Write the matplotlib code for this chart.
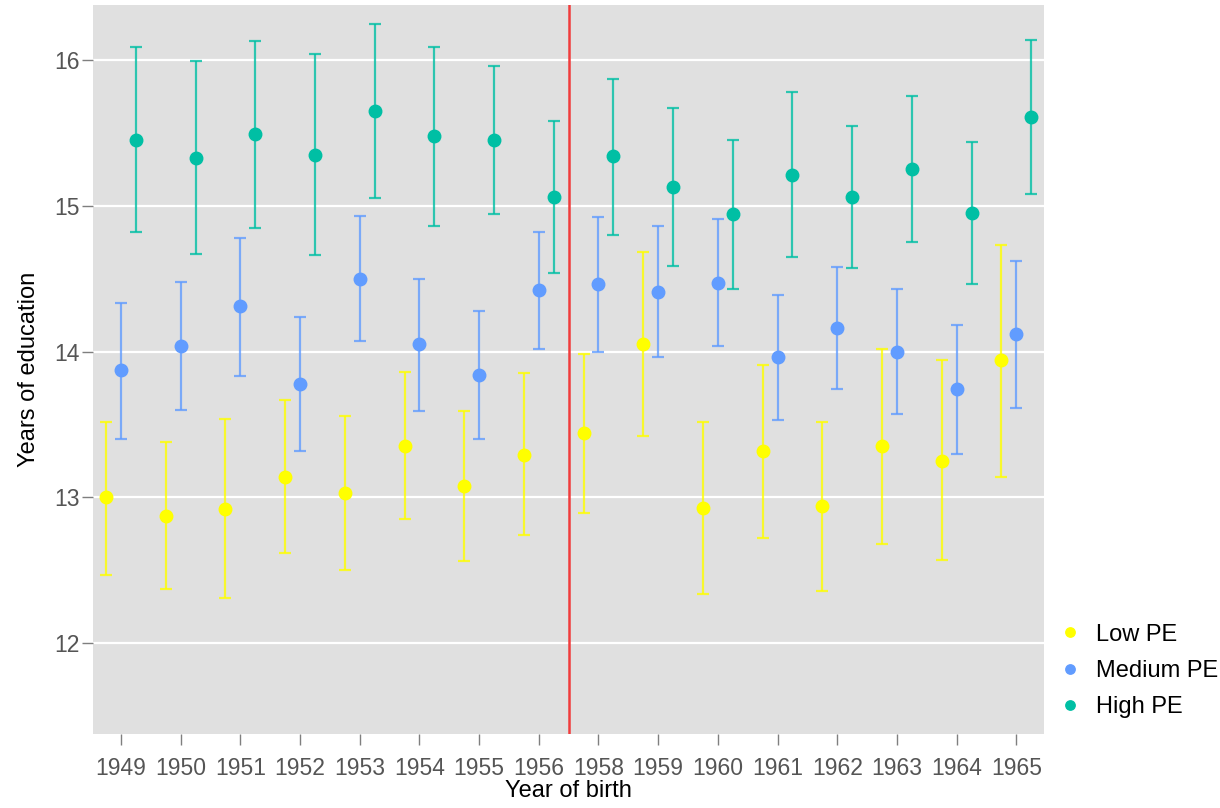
import matplotlib
matplotlib.use("Agg")
import matplotlib.pyplot as plt
import numpy as np

plt.rcParams['font.family'] = ['Liberation Sans', 'DejaVu Sans']

years = ['1949', '1950', '1951', '1952', '1953', '1954', '1955', '1956',
         '1958', '1959', '1960', '1961', '1962', '1963', '1964', '1965']

# mean years of education and interval bounds per birth cohort
low_mean = [13.00, 12.87, 12.92, 13.14, 13.03, 13.35, 13.08, 13.29,
            13.44, 14.05, 12.93, 13.32, 12.94, 13.35, 13.25, 13.94]
low_lo = [12.47, 12.37, 12.31, 12.62, 12.50, 12.85, 12.56, 12.74,
          12.89, 13.42, 12.34, 12.72, 12.36, 12.68, 12.57, 13.14]
low_hi = [13.52, 13.38, 13.54, 13.67, 13.56, 13.86, 13.59, 13.85,
          13.98, 14.68, 13.52, 13.91, 13.52, 14.02, 13.94, 14.73]

med_mean = [13.87, 14.04, 14.31, 13.78, 14.50, 14.05, 13.84, 14.42,
            14.46, 14.41, 14.47, 13.96, 14.16, 14.00, 13.74, 14.12]
med_lo = [13.40, 13.60, 13.83, 13.32, 14.07, 13.59, 13.40, 14.02,
          14.00, 13.96, 14.04, 13.53, 13.74, 13.57, 13.30, 13.61]
med_hi = [14.33, 14.48, 14.78, 14.24, 14.93, 14.50, 14.28, 14.82,
          14.92, 14.86, 14.91, 14.39, 14.58, 14.43, 14.18, 14.62]

high_mean = [15.45, 15.33, 15.49, 15.35, 15.65, 15.48, 15.45, 15.06,
             15.34, 15.13, 14.94, 15.21, 15.06, 15.25, 14.95, 15.61]
high_lo = [14.82, 14.67, 14.85, 14.66, 15.05, 14.86, 14.94, 14.54,
           14.80, 14.59, 14.43, 14.65, 14.57, 14.75, 14.46, 15.08]
high_hi = [16.09, 15.99, 16.13, 16.04, 16.25, 16.09, 15.96, 15.58,
           15.87, 15.67, 15.45, 15.78, 15.55, 15.75, 15.44, 16.14]

groups = [
    ('Low PE', low_mean, low_lo, low_hi, '#FFFF00', -0.25),
    ('Medium PE', med_mean, med_lo, med_hi, '#619CFF', 0.0),
    ('High PE', high_mean, high_lo, high_hi, '#00BFA4', 0.25),
]

fig = plt.figure(figsize=(12.2, 8.08), dpi=100)
ax = fig.add_axes([93.3 / 1220, 1 - 733.5 / 808, (1044 - 93.3) / 1220, (733.5 - 5) / 808])
ax.set_facecolor('#E0E0E0')

x = np.arange(len(years))
for label, m, lo, hi, col, off in groups:
    m = np.array(m)
    yerr = [m - np.array(lo), np.array(hi) - m]
    ax.errorbar(x + off, m, yerr=yerr, fmt='none', ecolor=col, alpha=0.8,
                elinewidth=1.6, capsize=4, capthick=1.6, zorder=3)
    ax.plot(x + off, m, 'o', color=col, markersize=9, zorder=4, label=label)

ax.axvline(7.5, color='#F03C3C', lw=1.8, zorder=5)

ax.set_xlim(-0.464, 15.464)
ax.set_ylim(11.38, 16.377)
ax.set_yticks([12, 13, 14, 15, 16])
ax.set_xticks(x)
ax.set_xticklabels(years)
ax.yaxis.grid(True, color='white', lw=1.6)
ax.xaxis.grid(False)
ax.set_axisbelow(True)
for s in ax.spines.values():
    s.set_visible(False)
ax.tick_params(axis='both', length=8, width=1, color='#7F7F7F',
               labelcolor='#555555', labelsize=16.5)
ax.tick_params(axis='x', pad=9)
ax.tick_params(axis='y', pad=2)

ax.set_xlabel('Year of birth', fontsize=17, color='black', labelpad=0)
ax.set_ylabel('Years of education', fontsize=17, color='black', labelpad=10)

leg = ax.legend(loc='upper left', bbox_to_anchor=(0.99, 0.18), frameon=False,
                fontsize=17, markerscale=0.75, handletextpad=0.5,
                labelspacing=0.6, handlelength=1.2)

fig.savefig('out.png', dpi=100)
